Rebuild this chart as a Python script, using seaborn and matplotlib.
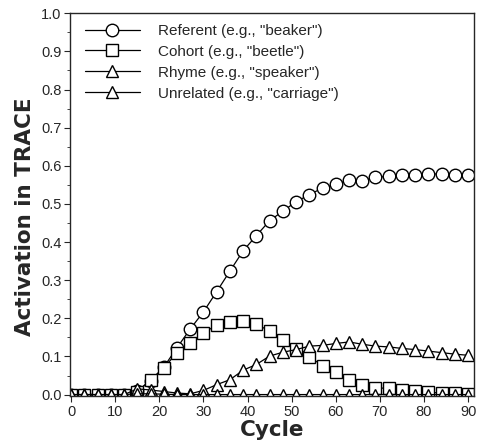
import numpy as np
import pandas as pd
import matplotlib
matplotlib.use('Agg')
import matplotlib.pyplot as plt
import seaborn as sns
from matplotlib.ticker import MultipleLocator, FormatStrFormatter

# TRACE activation over processing cycles (every 3rd cycle)
cycles = list(range(0, 91, 3))

referent = [0.0, 0.0, 0.0, 0.0, 0.0, 0.01, 0.035, 0.072, 0.123, 0.172, 0.217,
            0.270, 0.324, 0.377, 0.417, 0.456, 0.481, 0.506, 0.524, 0.542,
            0.551, 0.563, 0.561, 0.570, 0.572, 0.576, 0.576, 0.579, 0.578,
            0.577, 0.577]
cohort = [0.0, 0.0, 0.0, 0.0, 0.0, 0.008, 0.039, 0.070, 0.110, 0.136, 0.162,
          0.182, 0.190, 0.193, 0.184, 0.167, 0.143, 0.120, 0.099, 0.076,
          0.059, 0.039, 0.026, 0.018, 0.016, 0.013, 0.009, 0.006, 0.004,
          0.003, 0.002]
rhyme = [0.0, 0.0, 0.0, 0.0, 0.0, 0.015, 0.012, 0.008, 0.004, 0.002, 0.011,
         0.026, 0.039, 0.064, 0.079, 0.101, 0.111, 0.118, 0.127, 0.129,
         0.134, 0.138, 0.132, 0.127, 0.125, 0.121, 0.118, 0.114, 0.110,
         0.106, 0.103]
unrelated = [0.0, 0.0, 0.0, 0.0, 0.0, 0.002, 0.002, 0.001, 0.0, 0.0, 0.0,
             0.0, 0.0, 0.0, 0.0, 0.0, 0.0, 0.0, 0.0, 0.0, 0.0, 0.0, 0.0,
             0.0, 0.0, 0.0, 0.0, 0.0, 0.0, 0.0, 0.0]

labels = ['Referent (e.g., "beaker")', 'Cohort (e.g., "beetle")',
          'Rhyme (e.g., "speaker")', 'Unrelated (e.g., "carriage")']
markers = ['o', 's', '^', '^']

sns.set_style('ticks')
plt.rcParams['font.family'] = ['Liberation Sans', 'DejaVu Sans']

fig = plt.figure(figsize=(4.85, 4.42), dpi=100)
ax = fig.add_axes([0.144, 0.103, 0.833, 0.867])

for vals, lab, m in zip([referent, cohort, rhyme, unrelated], labels, markers):
    sns.lineplot(x=cycles, y=vals, ax=ax, label=lab, color='black',
                 linewidth=0.9, marker=m, markersize=9,
                 markerfacecolor='white', markeredgecolor='black',
                 markeredgewidth=1.0)

ax.set_xlim(-0.3, 91.3)
ax.set_ylim(-0.005, 1.0)
ax.xaxis.set_major_locator(MultipleLocator(10))
ax.yaxis.set_major_locator(MultipleLocator(0.1))
ax.yaxis.set_minor_locator(MultipleLocator(0.05))
ax.yaxis.set_major_formatter(FormatStrFormatter('%.1f'))
ax.tick_params(axis='both', which='major', labelsize=10.5, length=4,
               width=0.8, pad=2)
ax.tick_params(axis='y', which='minor', length=2, width=0.6)
for s in ax.spines.values():
    s.set_linewidth(1.0)
    s.set_visible(True)

# wide bold labels, like the original scan
lab_font = dict(fontsize=15.5, fontweight='bold', family='DejaVu Sans')
ax.set_xlabel('Cycle', labelpad=1, **lab_font)
ax.set_ylabel('Activation in TRACE', **lab_font)
ax.yaxis.set_label_coords(-0.085, 0.47)

ax.legend(loc='upper left', frameon=False, fontsize=11, handlelength=3.6,
          labelspacing=0.45, handletextpad=1.2, borderaxespad=0.3,
          bbox_to_anchor=(0.01, 1.0))

plt.savefig('out.png', dpi=100)
